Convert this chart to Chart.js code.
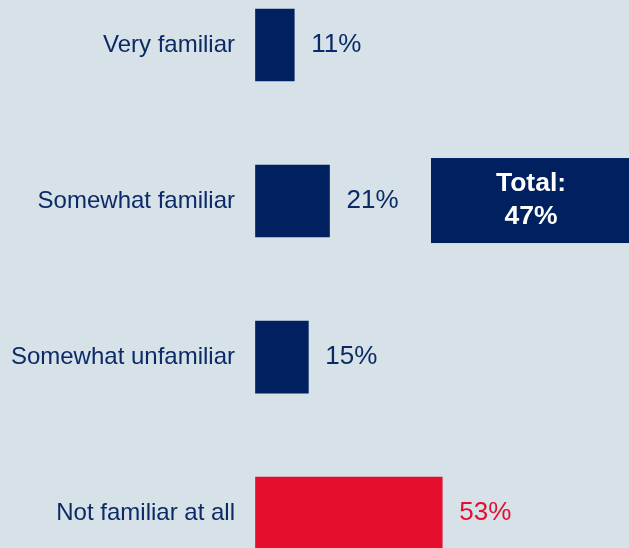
<!DOCTYPE html>
<html>
<head>
<meta charset="utf-8">
<script src="https://cdn.jsdelivr.net/npm/chart.js@4"></script>
<style>
  html, body { margin: 0; padding: 0; background: #d6e1e8; }
  #wrap { width: 629px; height: 548px; position: relative; }
</style>
</head>
<body>
<div id="wrap"><canvas id="chartjs-0"></canvas></div>
<script>
"use strict";

// familiarity answers, top to bottom
let answers = ["Very familiar", "Somewhat familiar", "Somewhat unfamiliar", "Not familiar at all"];
let shares = [11, 21, 15, 53];
let barColors = ["#002060", "#002060", "#002060", "#e60e2f"];
let valueColors = ["#0c2b66", "#0c2b66", "#0c2b66", "#e60e2f"];

// familiar total shown in the side box
let totalLabel = "Total:";
let totalValue = 47;

// value text next to each bar + the total box
const barText = {
    id: "barText",
    afterDatasetsDraw(chart) {
        const ctx = chart.ctx;
        const meta = chart.getDatasetMeta(0);
        ctx.save();
        ctx.font = "26px 'Liberation Sans', Arial, sans-serif";
        ctx.textAlign = "left";
        ctx.textBaseline = "middle";
        meta.data.forEach(function (bar, i) {
            ctx.fillStyle = valueColors[i];
            ctx.fillText(shares[i] + "%", bar.x + 17, bar.y);
        });

        // total box beside "Somewhat familiar"
        const row = meta.data[1];
        ctx.fillStyle = "#002060";
        ctx.fillRect(431, row.y - 43, 200, 85);
        ctx.fillStyle = "#ffffff";
        ctx.font = "bold 26.5px 'Liberation Sans', Arial, sans-serif";
        ctx.textAlign = "center";
        ctx.fillText(totalLabel, 531, row.y - 17);
        ctx.fillText(totalValue + "%", 531, row.y + 16);
        ctx.restore();
    }
};

var ctx = document.getElementById("chartjs-0");
var myChart = new Chart(ctx, {
    "type": "bar",
    "data": {
        "labels": answers,
        "datasets": [{
            "data": shares,
            backgroundColor: barColors,
            barThickness: 72,
            clip: false
        }]
    },
    "options": {
        indexAxis: "y",
        responsive: true,
        maintainAspectRatio: false,
        animation: false,
        layout: { padding: { top: 45, bottom: 33, left: 0, right: 0 } },
        plugins: {
            legend: { display: false },
            tooltip: { enabled: false }
        },
        scales: {
            x: {
                display: false,
                min: 0,
                max: 106
            },
            y: {
                offset: false,
                grid: { display: false, drawTicks: false },
                border: { display: false },
                ticks: {
                    color: "#0c2b66",
                    padding: 20.5,
                    font: { family: "'Liberation Sans', Arial, sans-serif", size: 24 }
                },
                afterFit: function (scale) { scale.width = 255.5; }
            }
        }
    },
    plugins: [barText]
});
</script>
</body>
</html>
